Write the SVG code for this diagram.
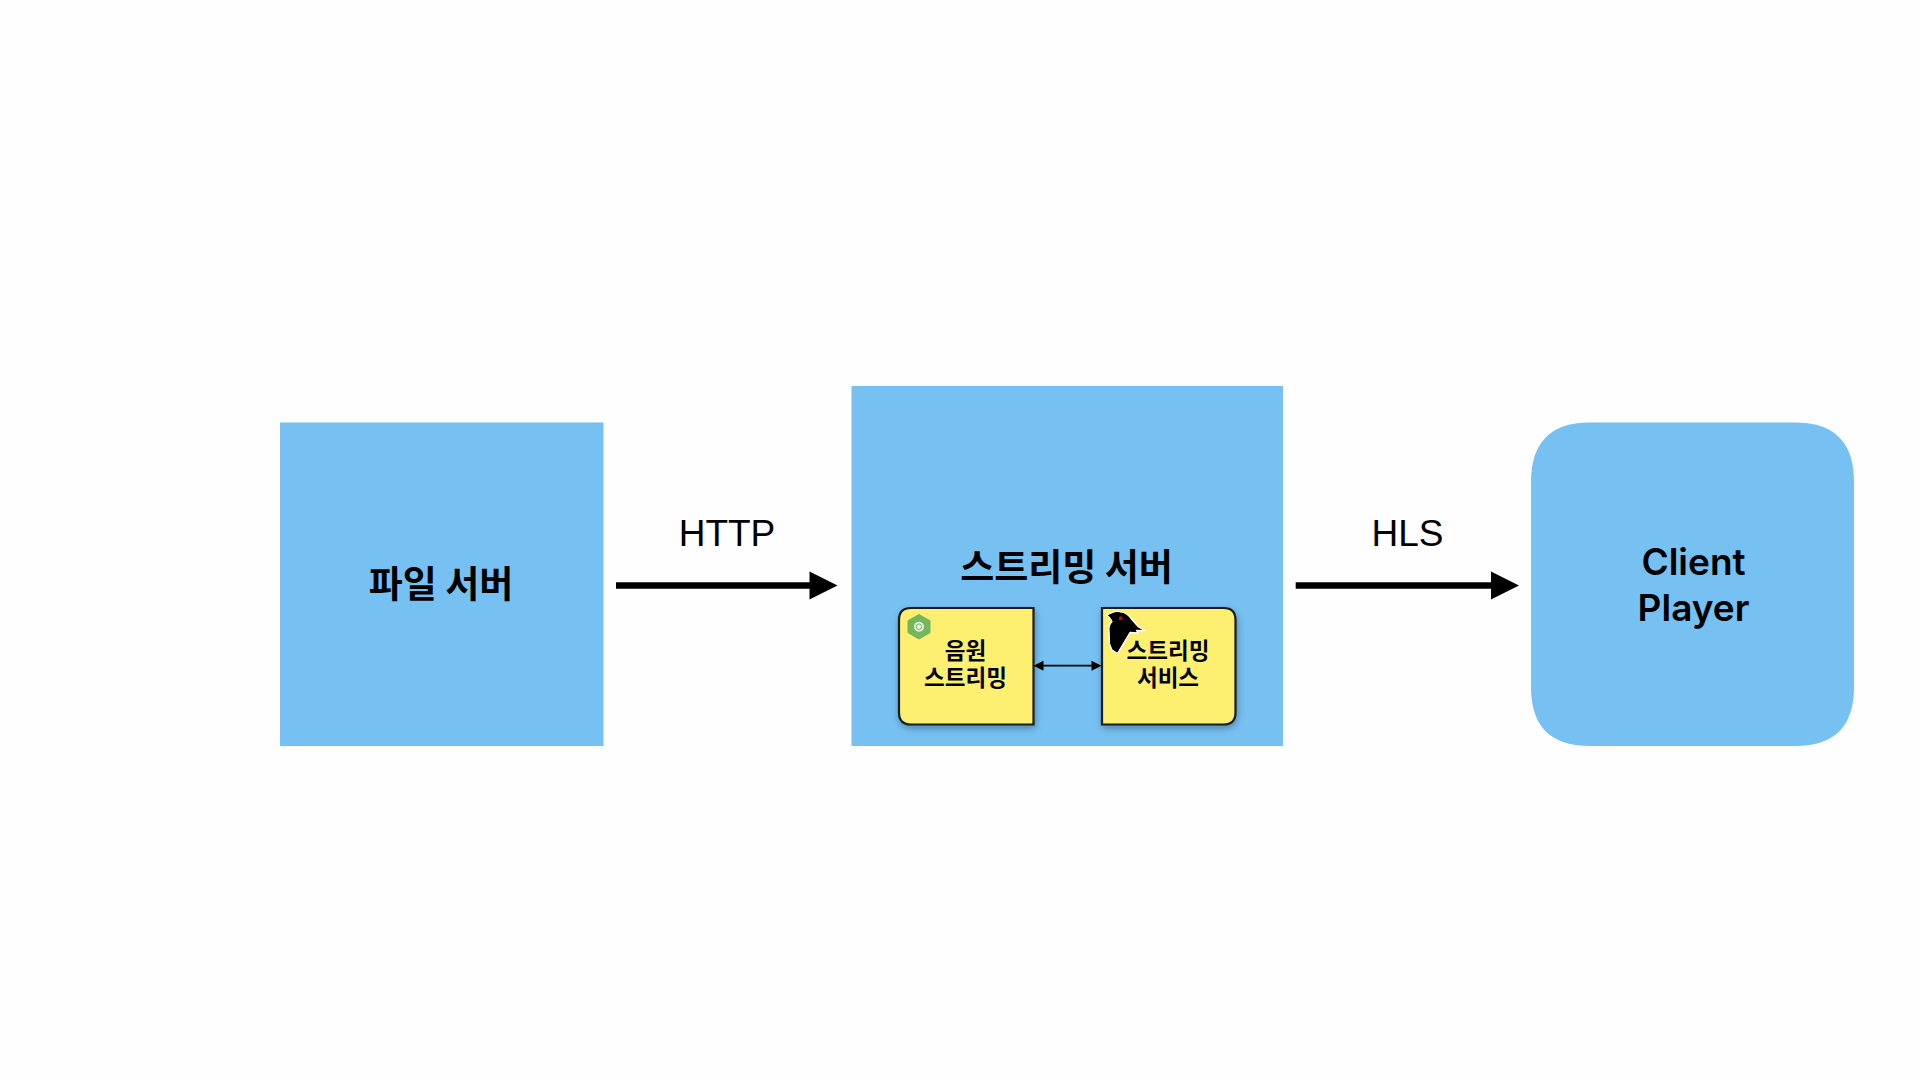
<svg xmlns="http://www.w3.org/2000/svg" width="1920" height="1080" viewBox="0 0 1920 1080">
<style>
.blue{fill:#76c1f2}
.yellow{fill:#fdf06f;stroke:#1a1a1a;stroke-width:2.2;filter:url(#sh)}
text{font-family:"Noto Sans CJK KR","Liberation Sans",sans-serif;fill:#000;text-anchor:middle}
.big{font-size:37px;font-weight:700}
.small{font-size:22.5px;font-weight:700}
.label{font-family:"Liberation Sans",sans-serif;font-size:37px}
.latin{font-family:"Inter","Liberation Sans",sans-serif;font-size:37px;font-weight:600}
.thick{stroke:#000;stroke-width:6.5;fill:none}
.thin{stroke:#000;stroke-width:1.8;fill:none}
</style>
<defs>
<filter id="sh" x="-10%" y="-10%" width="125%" height="125%"><feDropShadow dx="1" dy="3" stdDeviation="3.5" flood-color="#000" flood-opacity="0.3"/></filter>
</defs>
<rect width="1920" height="1080" fill="#fefefe"/>
<g id="file-server">
<rect class="blue" x="280" y="422.5" width="323.5" height="323.5"/>
<text class="big" x="441" y="597.5">파일 서버</text>
</g>
<g id="streaming-server">
<rect class="blue" x="851.5" y="386" width="431.5" height="360"/>
<text class="big" x="1066.5" y="580.5">스트리밍 서버</text>
</g>
<g id="audio-streaming">
<path class="yellow" d="M1033.5 608V724.5H911Q899 724.5 899 712.5V620Q899 608 911 608Z"/>
<text class="small" x="965.5" y="659">음원</text>
<text class="small" x="965.5" y="686">스트리밍</text>
<path d="M919 614.5L930 620.7V632.7L919 639L908 632.7V620.7Z" fill="#74b65a" stroke="#74b65a" stroke-width="1" stroke-linejoin="round"/>
<circle cx="919" cy="626.7" r="5" fill="#e9f2e2"/>
<circle cx="919" cy="626.7" r="2.8" fill="none" stroke="#74b65a" stroke-width="1"/>
</g>
<g id="streaming-service">
<path class="yellow" d="M1102 608V724.5H1223.5Q1235.5 724.5 1235.5 712.5V620Q1235.5 608 1223.5 608Z"/>
<text class="small" x="1168" y="659">스트리밍</text>
<text class="small" x="1168" y="686">서비스</text>
<path d="M1106.7 615L1112 612.7Q1116 610.5 1122 612Q1128 614 1131 618.5L1138.3 626.7L1145 630.7L1136.5 630.5L1138 633L1130 632.5L1124 642.5L1117.5 653.5L1112 650L1109.5 644L1109 630Q1108.5 625 1112 621.5Q1110 617 1106.7 615Z" fill="#000" stroke="#fff" stroke-width="1.3" stroke-linejoin="round"/>
<circle cx="1120.7" cy="618.3" r="2" fill="#a3141c"/>
</g>
<g id="connectors">
<path class="thick" d="M616 585.5H810"/>
<path d="M809.5 571.5L837.5 585.5L809.5 599.5Z"/>
<path class="thick" d="M1295.7 585.5H1492"/>
<path d="M1491 571.5L1519 585.5L1491 599.5Z"/>
<path class="thin" d="M1040 665.7H1095"/>
<path d="M1033.5 665.7L1043.5 660.7V670.7Z"/>
<path d="M1101.5 665.7L1091.5 660.7V670.7Z"/>
</g>
<text class="label" x="727" y="546">HTTP</text>
<text class="label" x="1407.5" y="546">HLS</text>
<g id="client-player">
<path class="blue" d="M1531 482C1531 445 1548 422.5 1590 422.5H1795C1837 422.5 1854 445 1854 482V687C1854 724 1837 746 1795 746H1590C1548 746 1531 724 1531 687Z"/>
<text class="latin" x="1693.5" y="575">Client</text>
<text class="latin" x="1693.5" y="620.5">Player</text>
</g>
</svg>
